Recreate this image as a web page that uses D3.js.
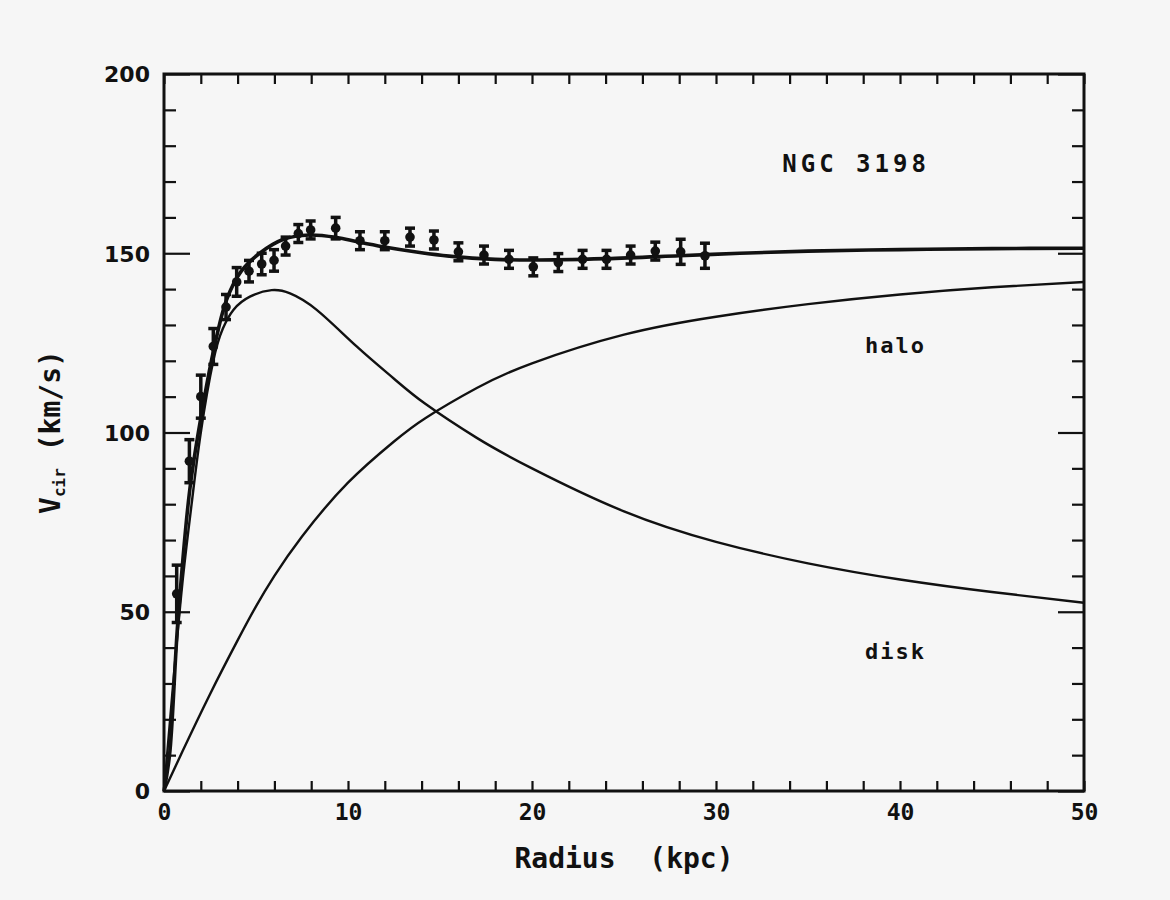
<!DOCTYPE html>
<html>
<head>
<meta charset="utf-8">
<script src="https://cdn.jsdelivr.net/npm/d3@7"></script>
<style>
  html, body { margin: 0; padding: 0; background: #f6f6f6; }
  svg { display: block; }
</style>
</head>
<body>
<div id="chart"></div>
<script>
// ---- Data ----
const obsRadius = [0.69, 1.38, 2.0, 2.68, 3.37, 3.95, 4.62, 5.31, 5.98, 6.61, 7.30, 7.97, 9.33, 10.65, 12.0, 13.37, 14.67, 16.0, 17.39, 18.75, 20.07, 21.43, 22.75, 24.05, 25.36, 26.7, 28.08, 29.4];
const obsVel    = [55, 92, 110, 124, 135, 142, 145, 147, 148, 152, 155.5, 156.5, 157, 153.5, 153.5, 154.5, 153.7, 150.4, 149.5, 148.3, 146.2, 147.4, 148.3, 148.3, 149.5, 150.6, 150.4, 149.3];
const obsErr    = [8, 6, 6, 5, 3.5, 4, 3, 3, 3, 2.5, 2.5, 2.5, 3, 2.5, 2.5, 2.5, 2.5, 2.5, 2.5, 2.5, 2.5, 2.5, 2.5, 2.5, 2.5, 2.5, 3.5, 3.5];

const totalR = [0, 0.3, 0.75, 1.4, 2.0, 2.7, 3.4, 4.2, 5.2, 6.5, 7.9, 9.4, 10.5, 11.9, 13.9, 15.5, 18, 20, 24, 28, 31.3, 35, 40, 45, 50];
const totalV = [0, 10, 47, 84, 104, 123, 137, 145, 150, 153.9, 155.1, 154.4, 153.2, 151.8, 150.2, 149.2, 148.3, 148.1, 148.5, 149.3, 150, 150.6, 151, 151.3, 151.4];

const diskR = [0, 0.5, 1, 1.5, 2, 2.68, 3.2, 3.77, 4.67, 5.85, 6.85, 8.3, 10.47, 12.5, 14.2, 17, 20, 25, 30, 35, 40, 45, 50];
const diskV = [0, 30, 58, 80, 100, 120, 129, 134.2, 137.9, 139.7, 138.8, 134.2, 124, 115, 108, 98.5, 90, 78, 69.5, 63.5, 59, 55.5, 52.5];

const haloR = [0, 1, 2.5, 4, 5, 6, 7.5, 10, 12.5, 14.2, 17, 20, 25, 30, 35, 40, 45, 50];
const haloV = [0, 11, 27, 42, 51.5, 60, 71, 86, 97.5, 104, 112.4, 119.3, 127.3, 132.3, 135.8, 138.5, 140.5, 142];

const xTickValues = [0, 10, 20, 30, 40, 50];
const yTickValues = [0, 50, 100, 150, 200];

const labels = [
  { text: "NGC 3198", r: 33.6, v: 175, size: 24, ls: 4 },
  { text: "halo", r: 38.1, v: 124.5, size: 22, ls: 2 },
  { text: "disk", r: 38.1, v: 39, size: 22, ls: 2 }
];

// ---- Layout ----
const W = 1170, H = 900;
const pLeft = 164, pRight = 1084, pTop = 74, pBottom = 791;

const svg = d3.select("#chart").append("svg")
  .attr("width", W).attr("height", H);

svg.append("rect").attr("width", W).attr("height", H).attr("fill", "#f6f6f6");

const x = d3.scaleLinear().domain([0, 50]).range([pLeft, pRight]);
const y = d3.scaleLinear().domain([0, 200]).range([pBottom, pTop]);

const tickFont = "'DejaVu Sans', sans-serif";

// Bottom axis (minor every 2 kpc, labels every 10)
const gB = svg.append("g").attr("transform", `translate(0,${pBottom})`)
  .call(d3.axisBottom(x).tickValues(d3.range(0, 51, 2)).tickSizeInner(-10).tickSizeOuter(0).tickPadding(13)
    .tickFormat(d => xTickValues.includes(d) ? d : ""));
// Top axis
svg.append("g").attr("transform", `translate(0,${pTop})`)
  .call(d3.axisTop(x).tickValues(d3.range(0, 51, 2)).tickSizeInner(-10).tickSizeOuter(0).tickFormat(""));
// Left axis minor
svg.append("g").attr("transform", `translate(${pLeft},0)`)
  .call(d3.axisLeft(y).tickValues(d3.range(0, 201, 10).filter(d => !yTickValues.includes(d))).tickSizeInner(-12).tickSizeOuter(0).tickFormat(""));
// Left axis major
const gL = svg.append("g").attr("transform", `translate(${pLeft},0)`)
  .call(d3.axisLeft(y).tickValues(yTickValues).tickSizeInner(-26).tickSizeOuter(0).tickPadding(14));
// Right axis minor & major
svg.append("g").attr("transform", `translate(${pRight},0)`)
  .call(d3.axisRight(y).tickValues(d3.range(0, 201, 10).filter(d => !yTickValues.includes(d))).tickSizeInner(-12).tickSizeOuter(0).tickFormat(""));
svg.append("g").attr("transform", `translate(${pRight},0)`)
  .call(d3.axisRight(y).tickValues(yTickValues).tickSizeInner(-26).tickSizeOuter(0).tickFormat(""));

svg.selectAll(".domain").remove();
svg.selectAll(".tick line").attr("stroke", "#111").attr("stroke-width", 2.2);
gB.selectAll("text").attr("font-family", "'DejaVu Sans Mono', monospace").attr("font-weight", "bold")
  .attr("font-size", 23).attr("fill", "#111");
gL.selectAll("text").attr("font-family", tickFont).attr("font-weight", "bold")
  .attr("font-size", 22).attr("fill", "#111").attr("dy", "0.36em");

// Frame
svg.append("rect").attr("x", pLeft).attr("y", pTop)
  .attr("width", pRight - pLeft).attr("height", pBottom - pTop)
  .attr("fill", "none").attr("stroke", "#111").attr("stroke-width", 3);

// Curves
const smooth = d3.line().x(d => x(d[0])).y(d => y(d[1])).curve(d3.curveNatural);
const lineTot = d3.line().x(d => x(d[0])).y(d => y(d[1])).curve(d3.curveCatmullRom.alpha(0.5));
const plot = svg.append("g");
plot.append("path").datum(d3.zip(haloR, haloV)).attr("d", smooth)
  .attr("fill", "none").attr("stroke", "#111").attr("stroke-width", 2.4);
plot.append("path").datum(d3.zip(diskR, diskV)).attr("d", smooth)
  .attr("fill", "none").attr("stroke", "#111").attr("stroke-width", 2.4);
plot.append("path").datum(d3.zip(totalR, totalV)).attr("d", lineTot)
  .attr("fill", "none").attr("stroke", "#111").attr("stroke-width", 3.6);

// Observed points with error bars
const obs = obsRadius.map((r, i) => ({ r, v: obsVel[i], e: obsErr[i] }));
const pts = plot.selectAll("g.pt").data(obs).enter().append("g").attr("class", "pt");
pts.append("line")
  .attr("x1", d => x(d.r)).attr("x2", d => x(d.r))
  .attr("y1", d => y(d.v - d.e)).attr("y2", d => y(d.v + d.e))
  .attr("stroke", "#111").attr("stroke-width", 3.5);
pts.append("line")
  .attr("x1", d => x(d.r) - 5).attr("x2", d => x(d.r) + 5)
  .attr("y1", d => y(d.v + d.e)).attr("y2", d => y(d.v + d.e))
  .attr("stroke", "#111").attr("stroke-width", 3.5);
pts.append("line")
  .attr("x1", d => x(d.r) - 5).attr("x2", d => x(d.r) + 5)
  .attr("y1", d => y(d.v - d.e)).attr("y2", d => y(d.v - d.e))
  .attr("stroke", "#111").attr("stroke-width", 3.5);
pts.append("circle")
  .attr("cx", d => x(d.r)).attr("cy", d => y(d.v)).attr("r", 4.8)
  .attr("fill", "#111");

// Annotations
svg.selectAll("text.lab").data(labels).enter().append("text").attr("class", "lab")
  .attr("x", d => x(d.r)).attr("y", d => y(d.v))
  .attr("font-family", "'DejaVu Sans Mono', monospace").attr("font-weight", "bold")
  .attr("font-size", d => d.size).attr("letter-spacing", d => d.ls).attr("fill", "#111")
  .attr("dy", "0.36em")
  .text(d => d.text);

// Axis titles
svg.append("text")
  .attr("x", (pLeft + pRight) / 2).attr("y", 868)
  .attr("text-anchor", "middle")
  .attr("font-family", "'DejaVu Sans Mono', monospace").attr("font-weight", "bold")
  .attr("font-size", 28).attr("fill", "#111")
  .attr("xml:space", "preserve")
  .text("Radius  (kpc)");

const yt = svg.append("text")
  .attr("transform", "translate(60,432) rotate(-90)")
  .attr("text-anchor", "middle")
  .attr("font-family", "'DejaVu Sans Mono', monospace").attr("font-weight", "bold")
  .attr("font-size", 28).attr("fill", "#111");
yt.append("tspan").text("V");
yt.append("tspan").attr("font-size", 16).attr("dy", 5).text("cir");
yt.append("tspan").attr("dy", -5).text(" (km/s)");
</script>
</body>
</html>
